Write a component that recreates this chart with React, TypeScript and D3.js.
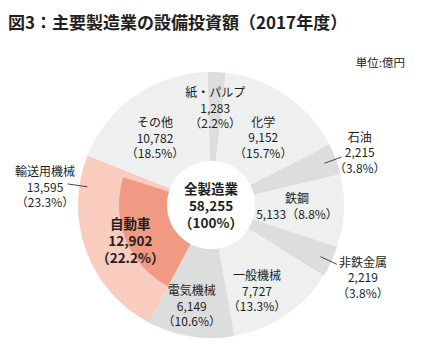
import * as d3 from 'd3';

// 2017年度 設備投資額（億円）
const categories = ['紙・パルプ', '化学', '石油', '鉄鋼', '非鉄金属', '一般機械', '電気機械', '輸送用機械', 'その他'];
const values = [1283, 9152, 2215, 5133, 2219, 7727, 6149, 13595, 10782];
const shares = ['2.2%', '15.7%', '3.8%', '8.8%', '3.8%', '13.3%', '10.6%', '23.3%', '18.5%'];
const subName = '自動車';
const subValue = 12902;
const subShare = '22.2%';
const totalLabel = '全製造業';
const totalValue = 58255;

const W = 427;
const H = 353;
const cx = 211;
const cy = 205;
const rOuter = 133;
const rInner = 44;
const rSub = 92;
const deg = Math.PI / 180;
const fmt = d3.format(',');

const FONT = '"Noto Sans CJK JP", "Noto Sans", sans-serif';
const TEXT = '#231f20';

// fill per slice: alternating grays, salmon for transport
const fills = ['#dcdddd', '#eeefef', '#dcdddd', '#eeefef', '#dcdddd', '#eeefef', '#dcdddd', '#f9ccbf', '#eeefef'];

// label placement: radius, angle tweak (deg), leader tweak (deg)
const layout: Record<string, { r: number; da: number; out?: boolean; inline?: boolean; la?: number; l0?: number; l1?: number }> = {
  '紙・パルプ': { r: 98, da: 0 },
  '化学': { r: 86, da: 2.7 },
  '石油': { r: 158, da: 0.5, out: true, la: 0, l0: 121, l1: 139 },
  '鉄鋼': { r: 84, da: -2.5, inline: true },
  '非鉄金属': { r: 168, da: 0, out: true, la: 0, l0: 121, l1: 139 },
  '一般機械': { r: 97, da: 5.7 },
  '電気機械': { r: 102, da: 2 },
  '輸送用機械': { r: 167, da: 26.5, out: true, la: 28.5, l0: 125, l1: 145 },
  'その他': { r: 88, da: -4.7 },
};

const polar = (a: number, r: number): [number, number] => [cx + r * Math.sin(a), cy - r * Math.cos(a)];

export default function App() {
  const total = d3.sum(values);
  const pie = d3
    .pie<number>()
    .sort(null)
    .value(d => d)
    .startAngle(-1.5 * deg)
    .endAngle(358.5 * deg);
  const arcs = pie(values);
  const arc = d3.arc<d3.PieArcDatum<number>>().innerRadius(rInner).outerRadius(rOuter);

  const trans = arcs[7];
  const subEnd = trans.startAngle + (subValue / total) * 2 * Math.PI;
  const subArc = d3.arc()({
    innerRadius: rInner,
    outerRadius: rSub,
    startAngle: trans.startAngle,
    endAngle: subEnd,
  } as any) as string;

  const lines = (x: number, y: number, rows: string[], size = 12, weight = 400, step = 15.5) =>
    rows.map((t, i) => (
      <text
        key={i}
        x={x}
        y={y + (i - (rows.length - 1) / 2) * step}
        textAnchor="middle"
        dominantBaseline="central"
        fontSize={size}
        fontWeight={weight}
        fill={TEXT}
      >
        {t}
      </text>
    ));

  const subMid = (trans.startAngle + subEnd) / 2 - 1.3 * deg;
  const [sx, sy] = polar(subMid, 88);

  return (
    <svg width={W} height={H} style={{ position: 'absolute', left: 0, top: 0, fontFamily: FONT }}>
      <rect width={W} height={H} fill="#fff" />
      <text x={8} y={21} dominantBaseline="central" fontSize={17} fontWeight={700} fill={TEXT}>
        図3：主要製造業の設備投資額（2017年度）
      </text>
      <text x={405} y={62} textAnchor="end" dominantBaseline="central" fontSize={11.5} fill={TEXT}>
        単位:億円
      </text>

      <g transform={`translate(${cx},${cy})`}>
        {arcs.map((d, i) => (
          <path key={categories[i]} d={arc(d) as string} fill={fills[i]} />
        ))}
        <path d={subArc} fill="#f09a83" />
        <circle r={rInner} fill="#fff" />
      </g>

      {arcs.map((d, i) => {
        const name = categories[i];
        const L = layout[name];
        const mid = (d.startAngle + d.endAngle) / 2;
        const [x, y] = polar(mid + L.da * deg, L.r);
        const rows = [name, fmt(values[i]), `（${shares[i]}）`];
        if (L.inline) {
          return <g key={name}>{lines(x + 2, y, [name, `${fmt(values[i])}（${shares[i]}）`], 12, 400, 16)}</g>;
        }
        if (L.out) {
          const la = mid + (L.la ?? 0) * deg;
          const [x1, y1] = polar(la, L.l0 ?? 121);
          const [x2, y2] = polar(la, L.l1 ?? 139);
          return (
            <g key={name}>
              <line x1={x1} y1={y1} x2={x2} y2={y2} stroke="#333" strokeWidth={0.9} />
              {lines(x, y, rows)}
            </g>
          );
        }
        return <g key={name}>{lines(x, y, rows)}</g>;
      })}

      {lines(sx, sy, [subName, fmt(subValue), `（${subShare}）`], 13.5, 700, 17)}
      {lines(cx, cy, [totalLabel, fmt(totalValue), '（100%）'], 13.5, 700, 17)}
    </svg>
  );
}
